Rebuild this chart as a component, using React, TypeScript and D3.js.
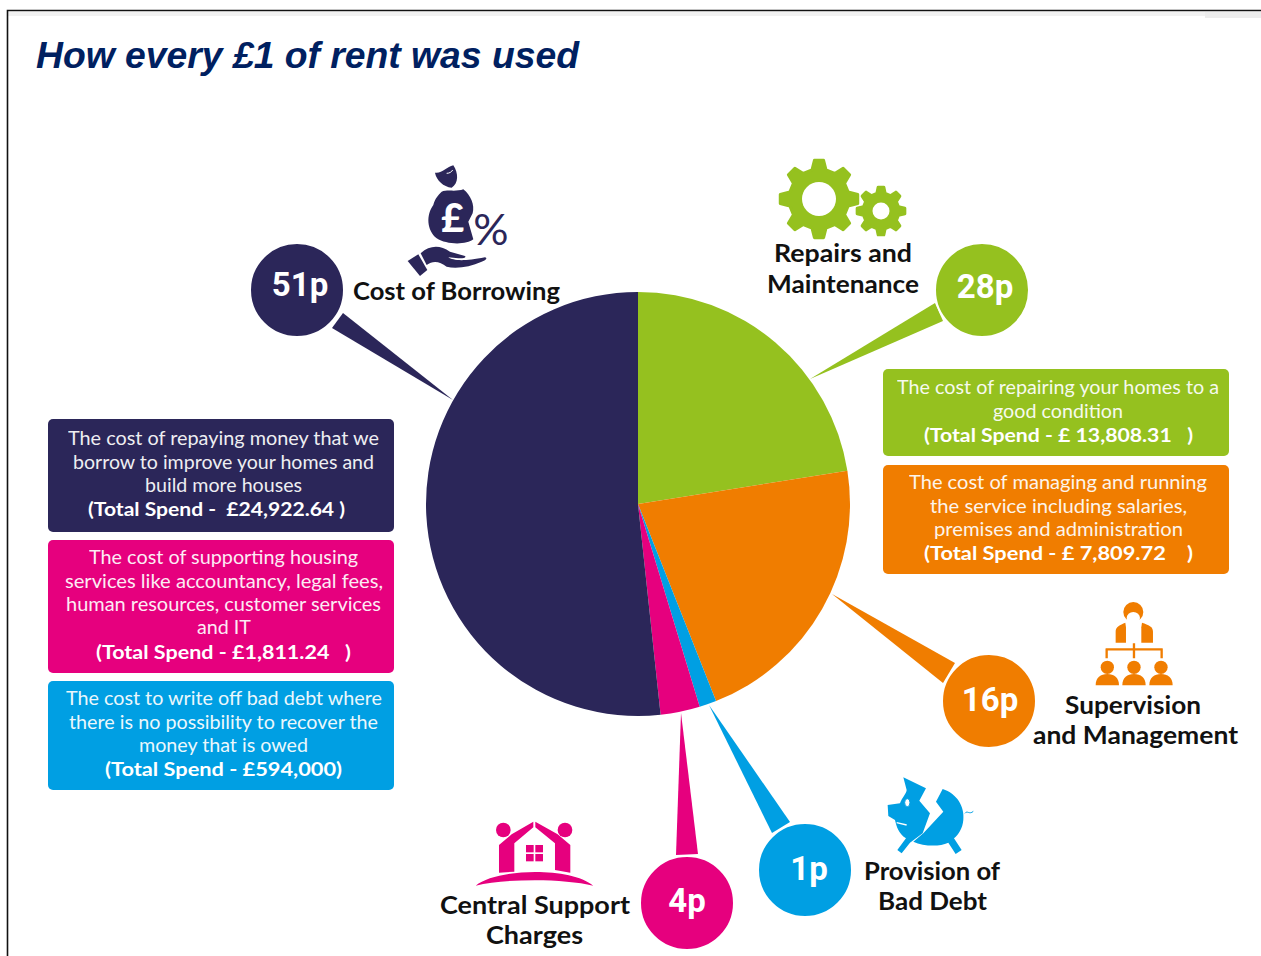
import React from "react";
import * as d3 from "d3";

// shares of the circle as drawn in the picture (they differ from the pence labels)
const categories = ["Repairs and Maintenance", "Supervision and Management", "Provision of Bad Debt", "Central Support Charges", "Cost of Borrowing"];
const sliceShares = [22.5, 21.5, 1.3, 3.0, 51.7];
const penceLabels = ["28p", "16p", "1p", "4p", "51p"];
const sliceColors = ["#95c11f", "#f07d00", "#009fe3", "#e6007e", "#2b2659"];

const NAVY = "#2b2659";
const PINK = "#e6007e";
const BLUE = "#009fe3";
const GREEN = "#95c11f";
const ORANGE = "#f07d00";

const cx = 638;
const cy = 504;
const radius = 212;
const bubbleR = 47;

// bubble + pointer placement, same order as categories
const callouts = [
  { c: [982, 290], tx: 985, ty: 298, tip: [810, 379], a: [935, 303], b: [943, 321] },
  { c: [989, 701], tx: 990, ty: 711, tip: [832, 594], a: [955, 663], b: [943, 683] },
  { c: [805, 870], tx: 809, ty: 880, tip: [709, 705], a: [790, 822], b: [772, 833] },
  { c: [687, 903], tx: 687, ty: 912, tip: [681, 713], a: [676, 855], b: [698, 854] },
  { c: [297, 290], tx: 300, ty: 296, tip: [453, 400], a: [343, 313], b: [332, 328] },
];

// x0, x1, baseline
const labelLines: [string, number, number, number][] = [
  ["Cost of Borrowing", 353, 560, 300],
  ["Repairs and", 774, 912, 262],
  ["Maintenance", 767, 919, 293],
  ["Supervision", 1065, 1201, 714],
  ["and Management", 1033, 1238, 744],
  ["Central Support", 440, 630, 914],
  ["Charges", 486, 583, 944],
  ["Provision of", 864, 1000, 880],
  ["Bad Debt", 878, 987, 910],
];

type Line = [string, number, number, number, boolean?];
const boxes: { x: number; y: number; h: number; fill: string; lines: Line[] }[] = [
  {
    x: 48, y: 419, h: 113, fill: NAVY,
    lines: [
      ["The cost of repaying money that we", 68, 379, 445],
      ["borrow to improve your homes and", 73, 374, 469],
      ["build more houses", 145, 302, 492],
      ["(Total Spend -  £24,922.64 )", 88, 345, 516, true],
    ],
  },
  {
    x: 48, y: 540, h: 133, fill: PINK,
    lines: [
      ["The cost of supporting housing", 89, 358, 564],
      ["services like accountancy, legal fees,", 65, 383, 588],
      ["human resources, customer services", 66, 381, 611],
      ["and IT", 197, 251, 634],
      ["(Total Spend - £1,811.24   )", 96, 351, 659, true],
    ],
  },
  {
    x: 48, y: 681, h: 109, fill: BLUE,
    lines: [
      ["The cost to write off bad debt where", 66, 382, 705],
      ["there is no possibility to recover the", 69, 378, 729],
      ["money that is owed", 139, 308, 752],
      ["(Total Spend - £594,000)", 105, 342, 776, true],
    ],
  },
  {
    x: 883, y: 369, h: 87, fill: GREEN,
    lines: [
      ["The cost of repairing your homes to a", 897, 1219, 394],
      ["good condition", 993, 1123, 418],
      ["(Total Spend - £ 13,808.31   )", 924, 1193, 442, true],
    ],
  },
  {
    x: 883, y: 465, h: 109, fill: ORANGE,
    lines: [
      ["The cost of managing and running", 909, 1207, 489],
      ["the service including salaries,", 930, 1187, 513],
      ["premises and administration", 934, 1183, 536],
      ["(Total Spend - £ 7,809.72    )", 924, 1193, 560, true],
    ],
  },
];

const FONT = "Lato, 'Noto Sans', sans-serif";

const gearPath = (outer: number, root: number, teeth: number) => {
  const pts: [number, number][] = [];
  const step = (Math.PI * 2) / teeth;
  for (let i = 0; i < teeth; i++) {
    const a = i * step;
    pts.push([a - step * 0.3, root], [a - step * 0.15, outer], [a + step * 0.15, outer], [a + step * 0.3, root]);
  }
  return d3.lineRadial().curve(d3.curveLinearClosed)(pts)!;
};

const Gear = ({ x, y, outer, root, hole }: any) => (
  <g transform={`translate(${x},${y})`}>
    <path d={gearPath(outer, root, 8)} fill={GREEN} stroke={GREEN} strokeWidth={3} strokeLinejoin="round" />
    <circle r={hole} fill="#fff" />
  </g>
);

const MoneyIcon = () => (
  <g transform="translate(250,150) scale(0.3333)" fill={NAVY}>
    <path d="M555 68 C575 72 590 50 610 46 C626 70 626 100 605 113 C580 110 560 92 555 68Z" />
    <path d="M590 70 C598 70 605 66 608 60" stroke="#fff" strokeWidth={3} fill="none" />
    <path d="M575 125 C590 118 620 126 640 118 C662 135 675 165 668 190 L655 215 L670 268 C650 285 590 285 560 265 C530 240 528 195 550 165 C555 145 565 135 575 125Z" />
    <text x={608} y={246} textAnchor="middle" fontSize={118} fontWeight={900} fontFamily={FONT} fill="#fff">£</text>
    <text x={670} y={284} fontSize={125} textLength={106} lengthAdjust="spacingAndGlyphs" fontFamily={FONT} fill={NAVY}>%</text>
    <path d="M473 333 L505 313 L532 360 L510 378Z" />
    <path d="M512 310 C540 285 570 285 600 305 L645 318 C650 322 640 326 625 325 L595 322 C610 332 640 335 705 322 C715 325 705 332 695 335 C660 350 620 358 590 350 C570 335 550 330 530 345Z" />
  </g>
);

const smallPeople = [502, 582, 663];
const TeamIcon = () => (
  <g transform="translate(940,590) scale(0.3333)" fill={ORANGE}>
    <circle cx={580} cy={66} r={30} />
    <path d="M527 158 L527 125 C527 110 540 105 556 98 L558 112 L558 158Z" />
    <path d="M639 158 L639 125 C639 110 626 105 606 98 L604 112 L604 158Z" />
    <ellipse cx={580} cy={84} rx={20} ry={18} fill="#fff" />
    <path d="M497 178 H668 M500 176 V205 M582 160 V205 M665 176 V205" stroke={ORANGE} strokeWidth={7} fill="none" />
    {smallPeople.map((x) => (
      <g key={x}>
        <circle cx={x} cy={232} r={20} />
        <path d={`M${x - 35} 286 C${x - 35} 262 ${x - 20} 252 ${x} 252 C${x + 20} 252 ${x + 35} 262 ${x + 35} 286Z`} />
      </g>
    ))}
  </g>
);

const windowPanes: [number, number][] = [[288, 225], [316, 225], [288, 252], [316, 252]];
const HouseIcon = () => (
  <g transform="translate(430,770) scale(0.3333)" fill={PINK}>
    <circle cx={220} cy={180} r={22} />
    <circle cx={405} cy={180} r={22} />
    <path d="M310 155 L310 172 L253 220 L253 305 L207 308 L207 225 L245 193Z" />
    <path d="M316 155 L316 172 L375 220 L375 300 L421 308 L421 225 L383 193Z" />
    {windowPanes.map(([x, y]) => (
      <rect key={x + "-" + y} x={x} y={y} width={23} height={22} />
    ))}
    <path d="M137 347 C200 295 420 290 490 347 C400 325 230 325 137 347Z" />
  </g>
);

const PigIcon = () => (
  <g transform="translate(750,770) scale(0.3333)" fill={BLUE}>
    <path d="M460 22 L528 55 L508 92 L540 130 L518 190 L480 218 L455 250 L442 240 L468 205 C445 190 440 170 435 150 L415 138 L413 105 L450 100 C455 85 470 70 470 60Z" />
    <path d="M578 57 C620 70 645 110 640 150 C638 175 625 195 612 205 L635 240 L617 252 L595 218 C565 232 520 228 490 215 L520 190 L580 125 L558 95Z" />
    <ellipse cx={472} cy={98} rx={8} ry={12} fill="#fff" stroke={BLUE} strokeWidth={3} />
    <path d="M440 158 L470 165" stroke="#fff" strokeWidth={4} />
    <path d="M645 130 C652 120 658 135 670 124" stroke={BLUE} strokeWidth={3} fill="none" />
  </g>
);

export default function App() {
  const pie = d3.pie<number>().sort(null).value((d) => d);
  const arc = d3.arc<d3.PieArcDatum<number>>().innerRadius(0).outerRadius(radius);
  const slices = pie(sliceShares);

  return (
    <svg width={1261} height={956} style={{ position: "absolute", left: 0, top: 0, display: "block", whiteSpace: "pre" }}>
      <rect width={1261} height={956} fill="#fff" />
      {/* slide frame */}
      <rect x={8} y={12} width={1253} height={4} fill="#f1f1f1" />
      <rect x={1205} y={12} width={56} height={6} fill="#ececec" />
      <path d="M7.5 956 V10.5 H1261" fill="none" stroke="#111" strokeWidth={1.6} />

      <text x={36} y={68} fontFamily="'Liberation Sans', Arial, sans-serif" fontWeight={700} fontStyle="italic" fontSize={36} fill="#002060" textLength={543} lengthAdjust="spacingAndGlyphs">
        How every £1 of rent was used
      </text>

      <g transform={`translate(${cx},${cy})`}>
        {slices.map((s, i) => (
          <path key={categories[i]} d={arc(s)!} fill={sliceColors[i]} />
        ))}
      </g>

      {callouts.map((c, i) => (
        <g key={penceLabels[i]}>
          <path d={`M${c.tip} L${c.a} L${c.b} Z`} fill={sliceColors[i]} />
          <circle cx={c.c[0]} cy={c.c[1]} r={bubbleR} fill={sliceColors[i]} stroke="#fff" strokeWidth={2} />
          <text x={c.tx} y={c.ty} textAnchor="middle" fontFamily="Roboto, 'Liberation Sans', sans-serif" fontWeight={700} fontSize={33} fill="#fff">
            {penceLabels[i]}
          </text>
        </g>
      ))}

      {labelLines.map(([t, x0, x1, y]) => (
        <text key={t} x={x0} y={y} fontFamily={FONT} fontWeight={700} fontSize={24} fill="#111" textLength={x1 - x0} lengthAdjust="spacingAndGlyphs">
          {t}
        </text>
      ))}

      {boxes.map((b) => (
        <g key={b.y + "-" + b.x}>
          <rect x={b.x} y={b.y} width={346} height={b.h} rx={5} fill={b.fill} />
          {b.lines.map(([t, x0, x1, y, bold]) => (
            <text key={t} x={x0} y={y} fontFamily={FONT} fontWeight={bold ? 700 : 400} fontSize={19.5} fill="#fff" opacity={bold ? 1 : 0.92} textLength={x1 - x0} lengthAdjust="spacingAndGlyphs" xmlSpace="preserve">
              {t}
            </text>
          ))}
        </g>
      ))}

      <MoneyIcon />
      <Gear x={819} y={199} outer={39} root={30} hole={17} />
      <Gear x={881} y={211} outer={24} root={18} hole={8.5} />
      <TeamIcon />
      <HouseIcon />
      <PigIcon />
    </svg>
  );
}
